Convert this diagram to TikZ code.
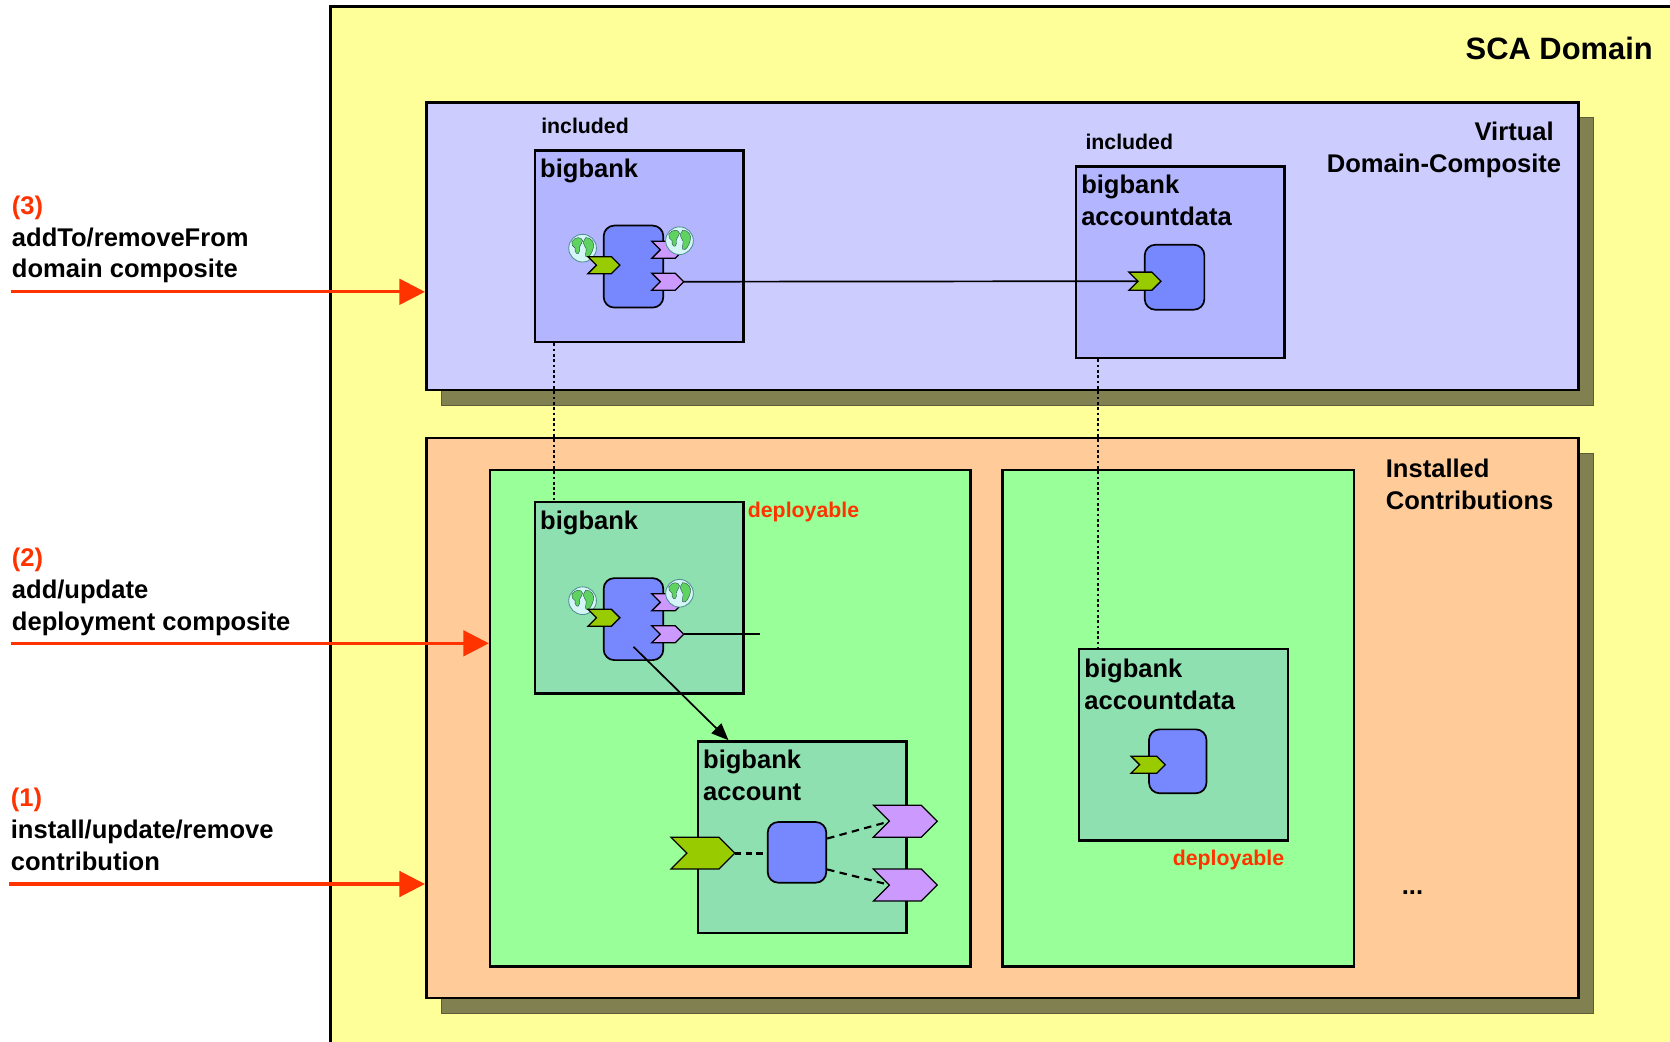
\documentclass[tikz,border=0pt]{standalone}
\usepackage{fontspec}
\setmainfont{Liberation Sans}
\usetikzlibrary{arrows.meta}

\definecolor{domainyellow}{HTML}{FFFF99}
\definecolor{vdclilac}{HTML}{CCCCFF}
\definecolor{incblue}{HTML}{B3B6FF}
\definecolor{compblue}{HTML}{7788FF}
\definecolor{installpeach}{HTML}{FFCC99}
\definecolor{contribgreen}{HTML}{99FF99}
\definecolor{depgreen}{HTML}{8FE0B0}
\definecolor{shadowolive}{HTML}{808050}
\definecolor{shadowedge}{HTML}{5C5C38}
\definecolor{svcgreen}{HTML}{99CC00}
\definecolor{refpurple}{HTML}{CC99FF}
\definecolor{actred}{HTML}{FF3300}
\definecolor{globesea}{HTML}{D4F6F6}
\definecolor{globeedge}{HTML}{4F9090}
\definecolor{globeland}{HTML}{5FD35F}

\tikzset{
  box/.style={draw, line width=2.4pt, anchor=north west, inner sep=0pt},
  dropbox/.style={draw=shadowedge, line width=1pt, fill=shadowolive, anchor=north west, inner sep=0pt},
  comp/.style={draw, line width=1.6pt, fill=compblue, rounded corners=10pt, anchor=north west, inner sep=0pt},
  heading/.style={font=\bfseries\fontsize{24}{30}\selectfont, inner sep=0pt, align=left, anchor=base west},
  note/.style={font=\bfseries\fontsize{20}{24}\selectfont, inner sep=0pt, anchor=base west},
  action/.style={draw=actred, line width=3pt, -{Triangle[length=24pt,width=24pt]}},
  link/.style={line width=2.2pt, dash pattern=on 2.5pt off 2.5pt},
  wire/.style={line width=1.6pt},
  pics/chev/.style n args={3}{code={
    \draw[fill=#1, line width=1.2pt, line join=miter] (0,{-#3/2}) -- ({#2-#3/2},{-#3/2}) -- (#2,0)
      -- ({#2-#3/2},{#3/2}) -- (0,{#3/2}) -- ({#3/2},0) -- cycle;
    \coordinate (-tip) at (#2,0);
    \coordinate (-notch) at ({#3/2},0);
  }},
  pics/globe/.style={code={
    \draw[fill=globesea, draw=globeedge, line width=0.8pt] (0,0) circle (13pt);
    \filldraw[fill=globeland, draw=globeedge!60!black, line width=0.4pt]
      (-10,-6) .. controls (-7,-11) and (-1,-11) .. (0,-7) .. controls (-1,-3) and (-4,-2) .. (-3,3)
      .. controls (-4,8) and (-8,4) .. (-7,0) .. controls (-9,-2) and (-11,-3) .. cycle;
    \filldraw[fill=globeland, draw=globeedge!60!black, line width=0.4pt]
      (3,-10) .. controls (8,-10) and (12,-5) .. (10,0) .. controls (9,4) and (6,10) .. (3,8)
      .. controls (2,4) and (5,1) .. (2,-2) .. controls (0,-5) and (1,-8) .. cycle;
  }}
}

\begin{document}
\begin{tikzpicture}[x=1pt,y=-1pt]
	\clip (0,0) rectangle (1568,978);
	\fill[white] (0,0) rectangle (1568,978);
	% SCA domain
	\node[box, fill=domainyellow, minimum width=1300pt, minimum height=1000pt] (domain) at (309,5) {};
	\node[font=\bfseries\fontsize{29}{34}\selectfont, inner sep=0pt, anchor=base east] (domainlbl) at (1552,56) {SCA Domain};

	% virtual domain composite
	\node[dropbox, minimum width=1082pt, minimum height=270pt] (vdcshadow) at (414,110) {};
	\node[box, fill=vdclilac, minimum width=1082pt, minimum height=270pt] (vdc) at (399,95) {};
	\node[heading, align=right, anchor=base east] (vdclbl) at (1466,162) {Virtual\hspace*{7pt}\\Domain-Composite};

	% installed contributions
	\node[dropbox, minimum width=1082pt, minimum height=526pt] (icshadow) at (414,425) {};
	\node[box, fill=installpeach, minimum width=1082pt, minimum height=526pt] (ic) at (399,410) {};
	\node[heading] (iclbl) at (1301,478) {Installed\\Contributions};
	\node[box, fill=contribgreen, minimum width=451pt, minimum height=466pt] (contribA) at (459,440) {};
	\node[box, fill=contribgreen, minimum width=330pt, minimum height=466pt] (contribB) at (940,440) {};
	\node[heading] (more) at (1316,840) {...};

	% composites
	\node[box, fill=incblue, minimum width=196pt, minimum height=180pt] (incBigbank) at (501,140) {};
	\node[note] (incBigbankTag) at (508,125) {included};
	\node[heading] (incBigbankLbl) at (507,167) {bigbank};
	\node[box, fill=incblue, minimum width=196pt, minimum height=180pt] (incAccData) at (1009,155) {};
	\node[note] (incAccDataTag) at (1019,140) {included};
	\node[heading] (incAccDataLbl) at (1015,212) {bigbank\\accountdata};

	\node[box, fill=depgreen, minimum width=196pt, minimum height=180pt] (depBigbank) at (501,470) {};
	\node[heading] (depBigbankLbl) at (507,497) {bigbank};
	\node[note, text=actred] (depBigbankTag) at (702,486) {deployable};
	\node[box, fill=depgreen, minimum width=196pt, minimum height=180pt] (account) at (654,695) {};
	\node[heading] (accountLbl) at (660,752) {bigbank\\account};
	\node[box, fill=depgreen, minimum width=196pt, minimum height=180pt] (depAccData) at (1012,608) {};
	\node[heading] (depAccDataLbl) at (1018,666) {bigbank\\accountdata};
	\node[note, text=actred] (depAccDataTag) at (1101,813) {deployable};

	% components
	\foreach \n/\y in {inc/211, dep/542} {
		\pic at (547,\y+22) {globe};
		\node[comp, minimum width=56pt, minimum height=77pt] (\n BB) at (566,\y) {};
		\pic (\n Svc) at (552,\y+38) {chev={svcgreen}{30}{16}};
		\pic (\n RefA) at (612,\y+23.5) {chev={refpurple}{30}{16}};
		\pic at (638,\y+15) {globe};
		\pic (\n RefB) at (612,\y+53.5) {chev={refpurple}{30}{16}};
	}
	\node[comp, minimum width=56pt, minimum height=61pt] (incAD) at (1074,229) {};
	\pic (incADSvc) at (1060,264) {chev={svcgreen}{30}{17}};
	\node[comp, minimum width=54pt, minimum height=60pt] (depAD) at (1078,684) {};
	\pic (depADSvc) at (1062,718) {chev={svcgreen}{32}{16}};

	\node[comp, minimum width=55pt, minimum height=57pt] (accComp) at (720,771) {};
	\draw[line width=3pt, dash pattern=on 6pt off 4pt] (690,801) -- (accComp.west |- 0,801);
	\draw[line width=2pt, dash pattern=on 7pt off 5pt] ([yshift=13pt]accComp.east) -- (836,771);
	\draw[line width=2pt, dash pattern=on 7pt off 5pt] ([yshift=-16pt]accComp.east) -- (836,831);
	\pic (accSvc) at (630,801) {chev={svcgreen}{60}{30}};
	\pic (accRefA) at (820,771) {chev={refpurple}{60}{30}};
	\pic (accRefB) at (820,831) {chev={refpurple}{60}{30}};

	% wires
	\draw[wire] (incRefB-tip) -- (incADSvc-notch);
	\coordinate (depWireEnd) at (714,0);
	\draw[wire] (depRefB-tip) -- (depRefB-tip -| depWireEnd);
	\draw[wire, -{Triangle[length=16pt,width=13pt]}] ([yshift=-26pt]depBB.center) -- ([xshift=30pt]account.north west);

	% actions
	\coordinate (in3) at (10,274);
	\draw[action] (in3) -- (in3 -| vdc.west);
	\coordinate (in2) at (10,604);
	\draw[action] (in2) -- (in2 -| contribA.west);
	\coordinate (in1) at (8,830);
	\draw[action] (in1) -- (in1 -| ic.west);
	\node[heading] (act3) at (11,261) {\textcolor{actred}{(3)}\\addTo/removeFrom\\domain composite};
	\node[heading] (act2) at (11,592) {\textcolor{actred}{(2)}\\add/update\\deployment composite};
	\node[heading] (act1) at (10,817) {\textcolor{actred}{(1)}\\install/update/remove\\contribution};

	% links
	\draw[link] ([xshift=19pt]incBigbank.south west) -- ([xshift=19pt]depBigbank.north west);
	\coordinate (adLink) at ([xshift=22pt]incAccData.south west);
	\draw[link] (adLink) -- (adLink |- depAccData.north);
\end{tikzpicture}
\end{document}
